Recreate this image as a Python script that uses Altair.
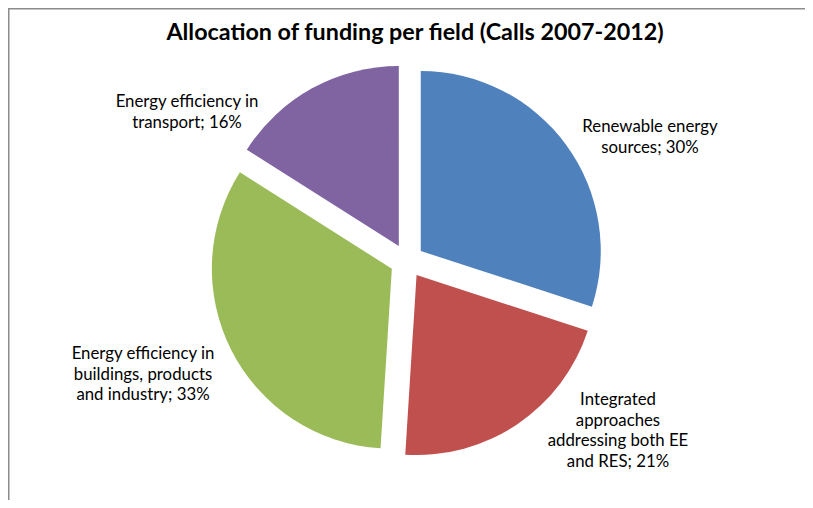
import altair as alt
import pandas as pd

# ---- data ----
categories = [
    "Renewable energy sources",
    "Integrated approaches addressing both EE and RES",
    "Energy efficiency in buildings, products and industry",
    "Energy efficiency in transport",
]
shares = [30, 21, 33, 16]
colors = ["#4F81BD", "#C0504D", "#9BBB59", "#8064A2"]
title_text = "Allocation of funding per field (Calls 2007-2012)"

# ---- layout (pixels, not data) ----
W, H = 797, 492
CX, CY = 399, 253
R = 180
EXPLODE = 17
FONT = "Lato"
wrapped = {
    categories[0]: "Renewable energy\nsources; {}%",
    categories[1]: "Integrated\napproaches\naddressing both EE\nand RES; {}%",
    categories[2]: "Energy efficiency in\nbuildings, products\nand industry; {}%",
    categories[3]: "Energy efficiency in\ntransport; {}%",
}
# centre x and first-line centre y of each label
label_pos = {
    categories[0]: (642, 119),
    categories[1]: (610, 392),
    categories[2]: (135, 346),
    categories[3]: (179, 94),
}

df = pd.DataFrame({"category": categories, "share": shares})
df["label"] = [wrapped[c].format(v) for c, v in zip(categories, shares)]
df["lx"] = [label_pos[c][0] for c in categories]
df["ly"] = [label_pos[c][1] for c in categories]

color_scale = alt.Scale(domain=categories, range=colors)

base = alt.Chart(df)

pie = (
    base.transform_joinaggregate(total="sum(share)")
    .transform_window(cum="sum(share)", frame=[None, 0])
    .transform_calculate(
        t0="2*PI*(datum.cum - datum.share)/datum.total",
        t1="2*PI*datum.cum/datum.total",
    )
    .transform_calculate(mid="(datum.t0 + datum.t1)/2")
    .transform_calculate(
        px=f"{CX} + {EXPLODE}*sin(datum.mid)",
        py=f"{CY} - {EXPLODE}*cos(datum.mid)",
    )
    .mark_arc(radius=R)
    .encode(
        theta=alt.Theta("t0:Q", scale=None),
        theta2="t1:Q",
        x=alt.X("px:Q", scale=None),
        y=alt.Y("py:Q", scale=None),
        color=alt.Color("category:N", scale=color_scale, legend=None),
    )
)

labels = base.mark_text(
    font=FONT, fontSize=16.8, color="#000000", align="center",
    baseline="middle", lineBreak="\n", lineHeight=20.7,
).encode(
    x=alt.X("lx:Q", scale=None),
    y=alt.Y("ly:Q", scale=None),
    text="label:N",
)

title = alt.Chart(pd.DataFrame({"t": [title_text]})).mark_text(
    font=FONT, fontSize=23.3, fontWeight="bold", color="#000000",
    align="center", baseline="middle",
).encode(x=alt.value(407), y=alt.value(25), text="t:N")

border_left = alt.Chart(pd.DataFrame({"a": [0]})).mark_rule(
    color="#8c8c8c", strokeWidth=1.5
).encode(x=alt.value(0.75), y=alt.value(0), y2=alt.value(H))
border_top = alt.Chart(pd.DataFrame({"a": [0]})).mark_rule(
    color="#8c8c8c", strokeWidth=1.5
).encode(x=alt.value(0), x2=alt.value(W), y=alt.value(0.75))

chart = (
    alt.layer(pie, labels, title, border_left, border_top)
    .properties(width=W, height=H, padding=0, autosize=alt.AutoSizeParams(type="none"))
    .configure_view(stroke=None)
    .configure(background="white")
)

chart.save("out.html", embed_options={"renderer": "svg", "actions": False})
